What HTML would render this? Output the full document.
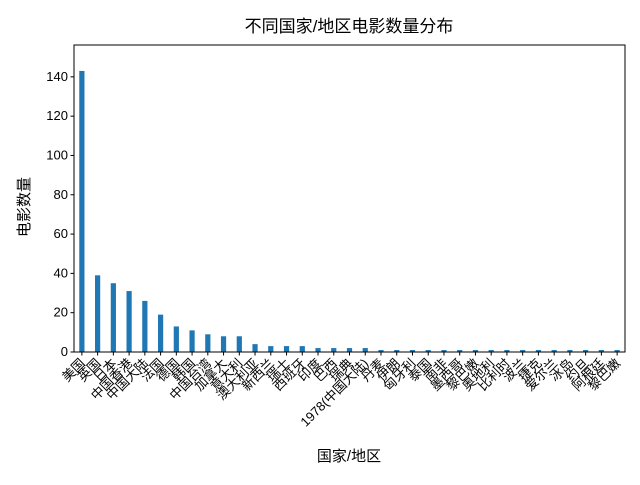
<!DOCTYPE html>
<html><head><meta charset="utf-8"><style>
body{margin:0;background:#fff}
svg text{font-family:"Liberation Sans","Noto Sans CJK SC",sans-serif;fill:#000}
</style></head><body>
<svg id="c" width="640" height="480"></svg>
<script>
const categories=["美国","英国","日本","中国香港","中国大陆","法国","德国","韩国","中国台湾","加拿大","意大利","澳大利亚","新西兰","瑞士","西班牙","印度","巴西","瑞典","1978(中国大陆)","丹麦","伊朗","匈牙利","泰国","南非","墨西哥","黎巴嫩","奥地利","比利时","波兰","捷克","爱尔兰","冰岛","约旦","阿根廷","黎巴嫩"];
const counts=[143,39,35,31,26,19,13,11,9,8,8,4,3,3,3,2,2,2,2,1,1,1,1,1,1,1,1,1,1,1,1,1,1,1,1];
const yTicks=[0,20,40,60,80,100,120,140];
const NS="http://www.w3.org/2000/svg";
const svg=document.getElementById('c');
const L=74,R=625,T=45,B=352,ymax=156.2;
const n=categories.length,step=(R-L)/n;
const xs=i=>L+(i+0.5)*step;
const ys=v=>B-(v/ymax)*(B-T);
function mk(t,a){const e=document.createElementNS(NS,t);for(const k in a)e.setAttribute(k,a[k]);svg.appendChild(e);return e;}
counts.forEach((v,i)=>{
 const r=mk('rect',{x:xs(i)-2.6,y:ys(v),width:5.2,height:B-ys(v),fill:'#1f77b4'});
 
 
});
const f=mk('rect',{x:L,y:T,width:R-L,height:B-T,fill:'none',stroke:'#000','stroke-width':1});


yTicks.forEach(v=>{
 mk('line',{x1:L-3.5,x2:L,y1:ys(v),y2:ys(v),stroke:'#000'});
 const t=mk('text',{x:L-6,y:ys(v)+4,'text-anchor':'end','font-size':'13'});
 t.textContent=v;
 
 
});
categories.forEach((c,i)=>{
 mk('line',{x1:xs(i),x2:xs(i),y1:B,y2:B+3.5,stroke:'#000'});
 const t=mk('text',{x:xs(i)+4,y:B+12,'text-anchor':'end','font-size':'13',transform:`rotate(-45 ${xs(i)+4} ${B+12})`});
 t.textContent=c;
 
 
});
let t=mk('text',{x:349,y:32,'text-anchor':'middle','font-size':'17'});t.textContent='不同国家/地区电影数量分布';


t=mk('text',{x:349,y:461,'text-anchor':'middle','font-size':'15'});t.textContent='国家/地区';


t=mk('text',{x:29,y:207,'text-anchor':'middle','font-size':'15',transform:'rotate(-90 29 207)'});t.textContent='电影数量';


</script>
</body></html>
